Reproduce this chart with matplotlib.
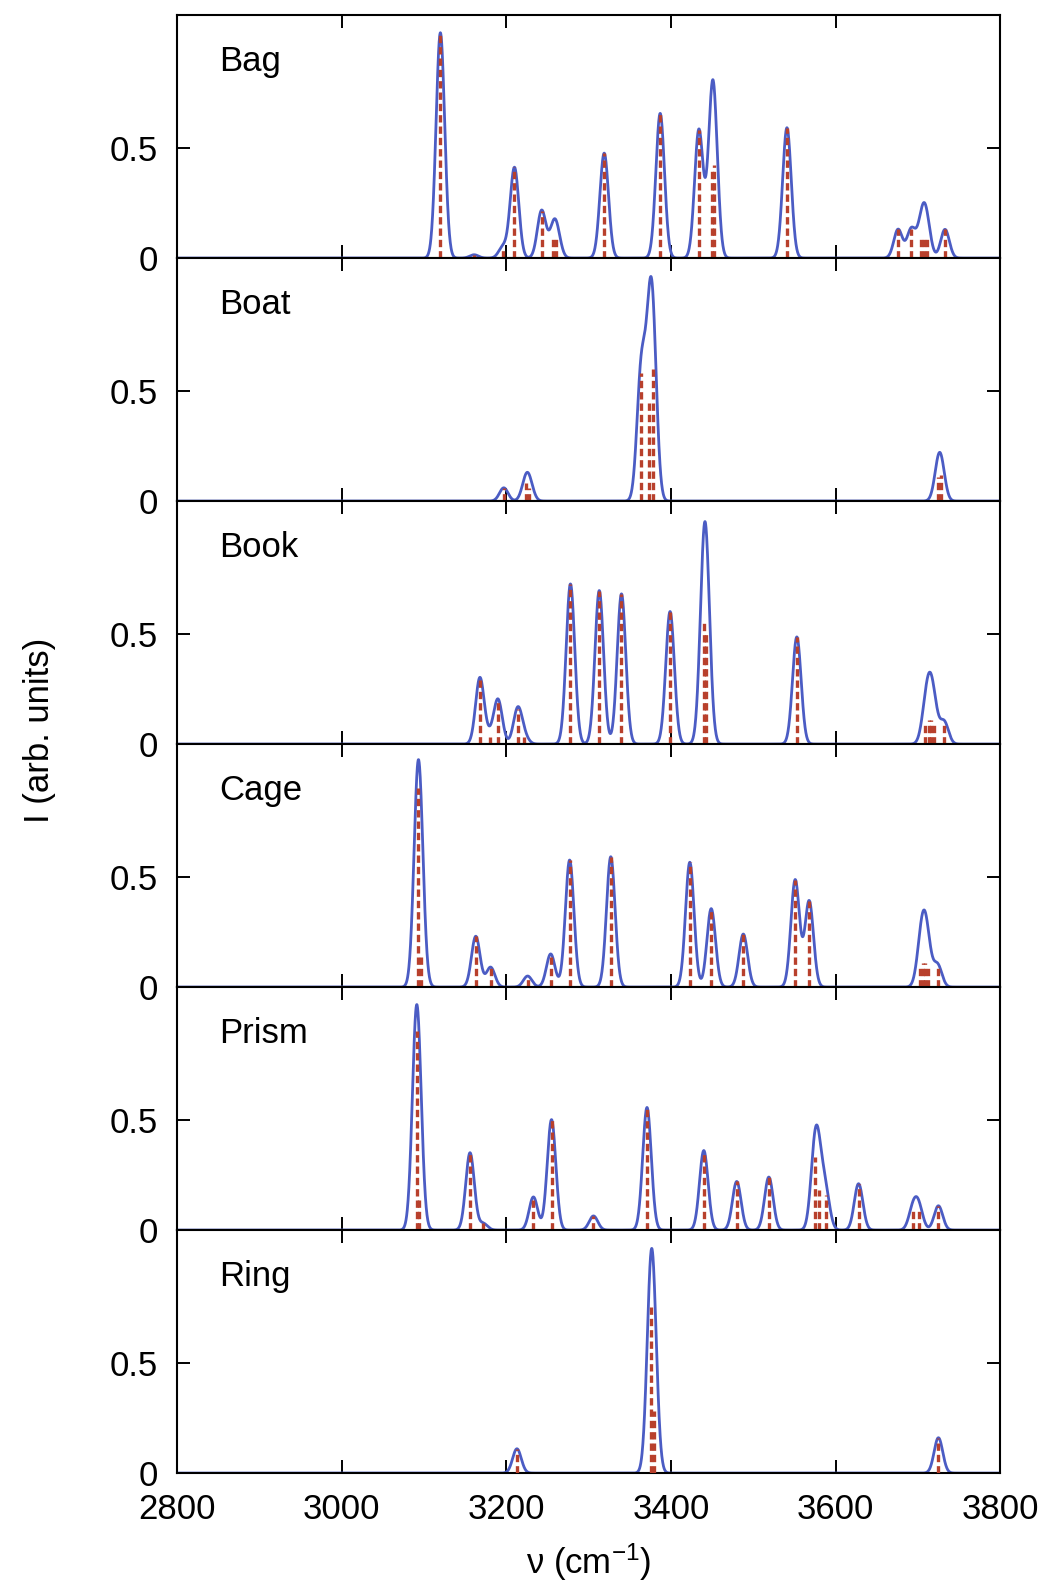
import numpy as np
import matplotlib
matplotlib.use("Agg")
import matplotlib.pyplot as plt

plt.rcParams['font.family'] = ['Liberation Sans', 'DejaVu Sans']
plt.rcParams['mathtext.default'] = 'regular'

# stick spectra (frequency in cm^-1, intensity in arb. units)
bag_freq = [3120, 3161, 3196, 3210, 3243, 3257, 3261, 3319, 3387, 3434, 3450, 3452,
            3541, 3676, 3692, 3704, 3708, 3711, 3733]
bag_int = [1.02, 0.015, 0.05, 0.41, 0.215, 0.09, 0.10, 0.475, 0.655, 0.58, 0.40, 0.42,
           0.59, 0.13, 0.13, 0.10, 0.095, 0.095, 0.13]

boat_freq = [3197, 3224, 3228, 3364, 3374, 3378, 3725, 3728]
boat_int = [0.06, 0.08, 0.06, 0.58, 0.45, 0.60, 0.11, 0.12]

book_freq = [3168, 3180, 3190, 3214, 3222, 3278, 3313, 3340, 3399, 3440, 3443,
             3553, 3709, 3713, 3716, 3720, 3732]
book_int = [0.30, 0.03, 0.20, 0.16, 0.03, 0.725, 0.695, 0.68, 0.60, 0.55, 0.50,
            0.485, 0.10, 0.11, 0.11, 0.10, 0.10]

cage_freq = [3093, 3096, 3163, 3181, 3226, 3254, 3277, 3327, 3423, 3449, 3488,
             3551, 3568, 3703, 3706, 3709, 3712, 3724]
cage_int = [0.90, 0.15, 0.23, 0.09, 0.05, 0.15, 0.575, 0.59, 0.565, 0.355, 0.24,
            0.485, 0.39, 0.10, 0.11, 0.11, 0.10, 0.10]

prism_freq = [3091, 3094, 3156, 3172, 3233, 3255, 3306, 3371, 3440, 3480, 3519,
              3575, 3580, 3588, 3628, 3694, 3701, 3725]
prism_int = [0.90, 0.14, 0.35, 0.03, 0.15, 0.50, 0.064, 0.555, 0.36, 0.22, 0.24,
             0.33, 0.18, 0.16, 0.21, 0.09, 0.10, 0.11]

ring_freq = [3213, 3376, 3379, 3725]
ring_int = [0.11, 0.77, 0.28, 0.16]

labels = ['Bag', 'Boat', 'Book', 'Cage', 'Prism', 'Ring']
freqs = [bag_freq, boat_freq, book_freq, cage_freq, prism_freq, ring_freq]
ints = [bag_int, boat_int, book_int, cage_int, prism_int, ring_int]

sigma = 5.2  # gaussian broadening, cm^-1
grid = np.linspace(2800, 3800, 4001)

fig, axes = plt.subplots(6, 1, figsize=(10.44, 15.86), dpi=100, sharex=True)
fig.subplots_adjust(left=0.1695, right=0.958, top=0.9905, bottom=0.0712, hspace=0)

for ax, name, f, s in zip(axes, labels, freqs, ints):
    f = np.asarray(f, dtype=float)
    s = np.asarray(s, dtype=float)
    spec = (s[:, None] * np.exp(-(grid[None, :] - f[:, None]) ** 2 / (2 * sigma ** 2))).sum(axis=0)
    ax.plot(grid, spec, color='#4b5cc4', lw=2.0, zorder=2)
    ax.vlines(f, 0, s, colors='#b8402c', lw=2.4, linestyles=(0, (2.2, 1.2)), zorder=3)

    ax.set_xlim(2800, 3800)
    ax.set_ylim(0, 1.1)
    ax.set_yticks([0, 0.5])
    ax.set_yticklabels(['0', '0.5'])
    ax.set_xticks(np.arange(2800, 3801, 200))
    ax.tick_params(direction='in', length=9.5, width=1.4, top=True, right=True,
                   labelsize=25, pad=14)
    for sp in ax.spines.values():
        sp.set_linewidth(1.5)
    ax.text(0.051, 0.81, name, transform=ax.transAxes, fontsize=25,
            ha='left', va='center')

for ax in axes[:-1]:
    ax.tick_params(labelbottom=False)

fig.text(588.5 / 1044, 1 - 1562 / 1586, 'ν (cm$^{-1}$)', fontsize=25,
         ha='center', va='center')
fig.text(40 / 1044, 1 - 730 / 1586, 'I (arb. units)', fontsize=25,
         ha='center', va='center', rotation=90)

plt.savefig('out.png', dpi=100)
plt.close()
